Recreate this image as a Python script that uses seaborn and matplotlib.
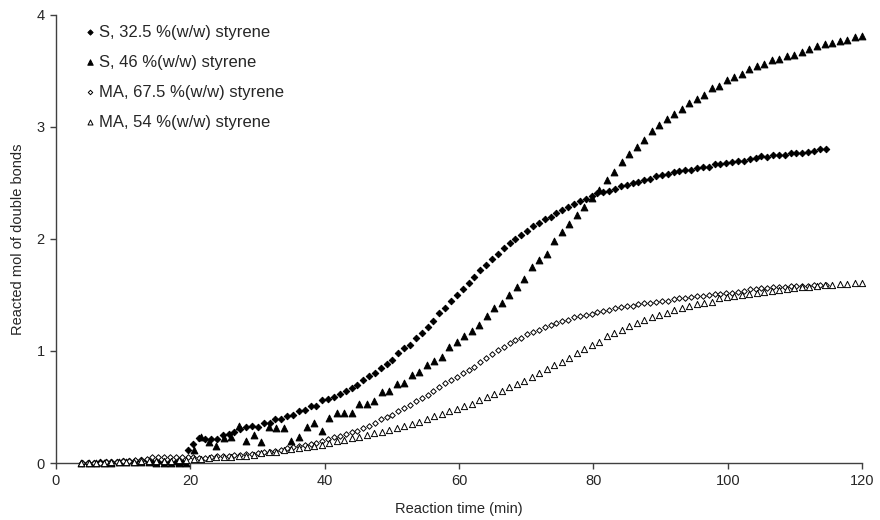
import numpy as np
import pandas as pd
import seaborn as sns
import matplotlib.pyplot as plt

# sampling runs: S 32.5 and MA 67.5 share one schedule, S 46 and MA 54 the other
time_a_start, time_a_end = 3.9, 114.6
time_b_start, time_b_end = 3.77, 120.0

s_325 = [0.00, 0.00, 0.00, 0.01, 0.01, 0.01, 0.01, 0.02, 0.02, 0.02,
         0.03, 0.03, 0.01, 0.01, 0.01, 0.01, 0.01, 0.01, 0.12, 0.17,
         0.22, 0.21, 0.21, 0.21, 0.25, 0.26, 0.28, 0.30, 0.32, 0.33,
         0.32, 0.36, 0.36, 0.39, 0.39, 0.42, 0.43, 0.46, 0.47, 0.51,
         0.51, 0.56, 0.57, 0.59, 0.62, 0.64, 0.67, 0.70, 0.74, 0.78,
         0.80, 0.85, 0.88, 0.92, 0.98, 1.03, 1.05, 1.12, 1.16, 1.21,
         1.27, 1.34, 1.38, 1.45, 1.50, 1.55, 1.61, 1.66, 1.72, 1.77,
         1.82, 1.87, 1.92, 1.96, 2.00, 2.04, 2.07, 2.12, 2.14, 2.18,
         2.20, 2.23, 2.26, 2.29, 2.31, 2.34, 2.36, 2.38, 2.41, 2.42,
         2.43, 2.45, 2.47, 2.48, 2.50, 2.51, 2.53, 2.54, 2.56, 2.57,
         2.58, 2.60, 2.61, 2.62, 2.62, 2.63, 2.64, 2.64, 2.67, 2.67,
         2.68, 2.69, 2.70, 2.70, 2.71, 2.72, 2.74, 2.73, 2.75, 2.75,
         2.75, 2.77, 2.77, 2.77, 2.78, 2.79, 2.80, 2.80]

ma_675 = [0.00, 0.00, 0.00, 0.00, 0.01, 0.01, 0.01, 0.02, 0.02, 0.03,
          0.03, 0.04, 0.05, 0.05, 0.05, 0.05, 0.05, 0.05, 0.05, 0.05,
          0.045, 0.045, 0.05, 0.06, 0.06, 0.06, 0.07, 0.07, 0.08, 0.08,
          0.085, 0.095, 0.10, 0.11, 0.12, 0.13, 0.14, 0.15, 0.16, 0.17,
          0.18, 0.20, 0.21, 0.23, 0.24, 0.26, 0.28, 0.29, 0.31, 0.33,
          0.36, 0.39, 0.41, 0.43, 0.46, 0.49, 0.52, 0.55, 0.58, 0.61,
          0.64, 0.68, 0.71, 0.74, 0.77, 0.80, 0.83, 0.86, 0.90, 0.94,
          0.97, 1.01, 1.04, 1.07, 1.10, 1.12, 1.15, 1.17, 1.19, 1.21,
          1.23, 1.25, 1.27, 1.28, 1.30, 1.31, 1.32, 1.33, 1.35, 1.36,
          1.37, 1.38, 1.39, 1.40, 1.40, 1.42, 1.43, 1.43, 1.44, 1.45,
          1.45, 1.46, 1.47, 1.47, 1.48, 1.49, 1.49, 1.50, 1.51, 1.51,
          1.52, 1.52, 1.53, 1.54, 1.55, 1.55, 1.56, 1.56, 1.57, 1.57,
          1.57, 1.58, 1.58, 1.58, 1.58, 1.59, 1.59, 1.59]

s_46 = [0.00, 0.00, 0.00, 0.00, 0.00, 0.01, 0.01, 0.01, 0.01, 0.01,
        0.00, 0.00, 0.00, 0.00, 0.00, 0.12, 0.23, 0.19, 0.15, 0.22,
        0.23, 0.33, 0.20, 0.25, 0.19, 0.32, 0.31, 0.31, 0.20, 0.235,
        0.32, 0.36, 0.29, 0.40, 0.45, 0.45, 0.45, 0.53, 0.53, 0.55,
        0.63, 0.645, 0.705, 0.71, 0.79, 0.815, 0.875, 0.915, 0.95, 1.04,
        1.08, 1.13, 1.18, 1.23, 1.31, 1.38, 1.43, 1.50, 1.57, 1.64,
        1.75, 1.81, 1.87, 1.98, 2.06, 2.13, 2.21, 2.29, 2.37, 2.44,
        2.53, 2.60, 2.69, 2.76, 2.82, 2.88, 2.96, 3.02, 3.07, 3.12,
        3.16, 3.21, 3.25, 3.29, 3.35, 3.37, 3.42, 3.45, 3.47, 3.52,
        3.54, 3.56, 3.60, 3.61, 3.63, 3.64, 3.67, 3.70, 3.72, 3.74,
        3.75, 3.77, 3.78, 3.80, 3.81]

ma_54 = [0.00, 0.00, 0.00, 0.00, 0.01, 0.01, 0.01, 0.01, 0.02, 0.02,
         0.02, 0.02, 0.02, 0.03, 0.03, 0.04, 0.04, 0.045, 0.05, 0.05,
         0.055, 0.06, 0.065, 0.075, 0.085, 0.095, 0.10, 0.115, 0.125, 0.135,
         0.145, 0.155, 0.165, 0.18, 0.195, 0.205, 0.22, 0.235, 0.25, 0.265,
         0.28, 0.295, 0.31, 0.33, 0.35, 0.37, 0.39, 0.42, 0.44, 0.46,
         0.48, 0.51, 0.53, 0.56, 0.59, 0.62, 0.645, 0.675, 0.705, 0.735,
         0.77, 0.80, 0.84, 0.875, 0.905, 0.94, 0.98, 1.015, 1.05, 1.08,
         1.13, 1.16, 1.19, 1.22, 1.25, 1.28, 1.30, 1.32, 1.34, 1.37,
         1.38, 1.40, 1.42, 1.43, 1.44, 1.47, 1.48, 1.49, 1.50, 1.51,
         1.52, 1.53, 1.54, 1.545, 1.55, 1.56, 1.57, 1.575, 1.58, 1.59,
         1.59, 1.60, 1.60, 1.605, 1.605]

labels = ["S, 32.5 %(w/w) styrene", "S, 46 %(w/w) styrene",
          "MA, 67.5 %(w/w) styrene", "MA, 54 %(w/w) styrene"]

time_a = np.linspace(time_a_start, time_a_end, len(s_325))
time_b = np.linspace(time_b_start, time_b_end, len(s_46))

series = [
    (time_a, s_325, "D", 11, "black"),
    (time_b, s_46, "^", 24, "black"),
    (time_a, ma_675, "D", 8, "white"),
    (time_b, ma_54, "^", 20, "white"),
]

sns.set_style("ticks")
plt.rcParams['font.family'] = ['Liberation Sans', 'DejaVu Sans']

fig = plt.figure(figsize=(8.8, 5.2), dpi=100)
ax = fig.add_axes([0.0636, 0.1096, 0.916, 0.8616])

for (t, y, marker, size, face), label in zip(series, labels):
    df = pd.DataFrame({"time": t, "mol": y})
    sns.scatterplot(data=df, x="time", y="mol", marker=marker, s=size,
                    color=face, edgecolor="black", linewidth=0.7,
                    label=label, clip_on=False, zorder=3, ax=ax)

ax.set_xlim(0, 120)
ax.set_ylim(0, 4)
ax.set_xticks(range(0, 121, 20))
ax.set_yticks(range(0, 5))
ax.set_xlabel("Reaction time (min)", fontsize=10.5, labelpad=10)
ax.set_ylabel("Reacted mol of double bonds", fontsize=10.5, labelpad=8)
ax.tick_params(axis="both", direction="out", length=4, width=1,
               color="#404040", labelsize=10.5, pad=4)

sns.despine(ax=ax)
for side in ["left", "bottom"]:
    ax.spines[side].set_color("#404040")
    ax.spines[side].set_linewidth(1)

ax.legend(loc="upper left", bbox_to_anchor=(0.038, 0.978), frameon=False,
          fontsize=12, borderpad=0, borderaxespad=0, handlelength=0.4,
          handletextpad=0.35, labelspacing=0.9, scatterpoints=1,
          markerscale=0.8)

fig.savefig("out.png", dpi=100)
